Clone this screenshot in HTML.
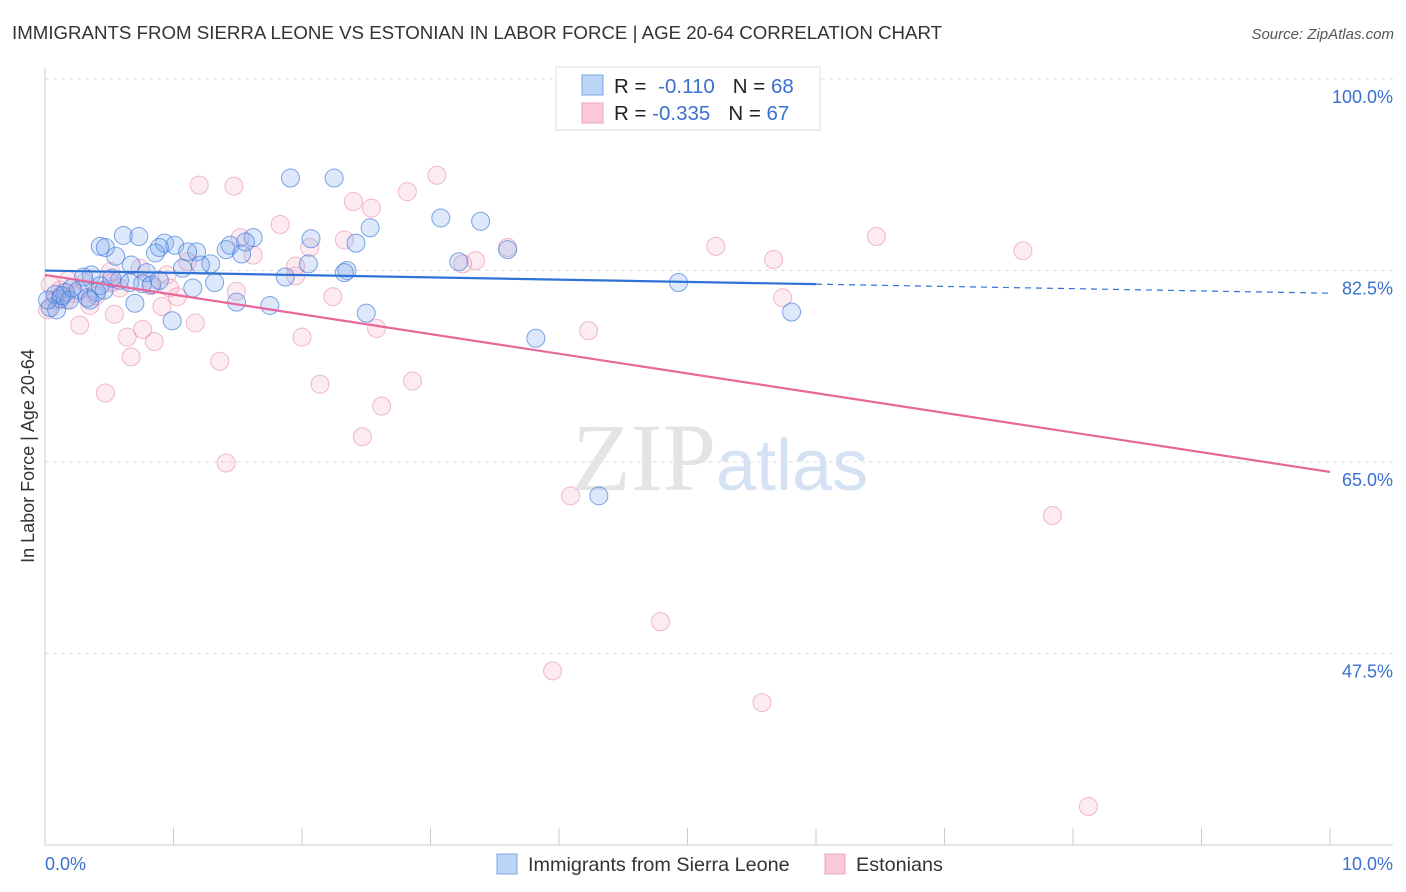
<!DOCTYPE html>
<html><head><meta charset="utf-8"><style>
body{margin:0;background:#fff;font-family:"Liberation Sans",sans-serif;}
#wrap{position:relative;width:1406px;height:892px;overflow:hidden;}
</style></head><body>
<div id="wrap">
<svg id="svg" width="1406" height="892" xmlns="http://www.w3.org/2000/svg">
<text x="12" y="39" font-size="18.7" fill="#333" font-family="Liberation Sans, sans-serif">IMMIGRANTS FROM SIERRA LEONE VS ESTONIAN IN LABOR FORCE | AGE 20-64 CORRELATION CHART</text>
<text x="1394" y="39" font-size="15" fill="#555" font-style="italic" text-anchor="end">Source: ZipAtlas.com</text>
<text x="716" y="490" font-size="96" fill="#e4e4e4" text-anchor="end" font-family="Liberation Serif, serif">ZIP</text>
<text x="716" y="490" font-size="72" fill="#d4e2f4" font-family="Liberation Sans, sans-serif">atlas</text>
<text transform="translate(34,456) rotate(-90)" font-size="18" fill="#333" text-anchor="middle">In Labor Force | Age 20-64</text>
<g id="grid"></g><g id="pts"></g><g id="trend"></g>
<g>
<rect x="556" y="67" width="264" height="63" fill="#fff" stroke="#ddd"/>
<rect x="582" y="75" width="21" height="20" fill="#bcd4f6" stroke="#7aa6e6"/>
<rect x="582" y="103" width="21" height="20" fill="#fac8d8" stroke="#eba4bc"/>
<text x="614" y="93" font-size="20.5" fill="#222">R = <tspan fill="#3a70d0" dx="6">-0.110</tspan><tspan fill="#222" dx="18">N = </tspan><tspan fill="#3a70d0">68</tspan></text>
<text x="614" y="120" font-size="20.5" fill="#222">R = <tspan fill="#3a70d0">-0.335</tspan><tspan fill="#222" dx="18">N = </tspan><tspan fill="#3a70d0">67</tspan></text>
</g>
<g>
<rect x="497" y="854" width="20" height="20" fill="#bcd4f6" stroke="#7aa6e6"/>
<text x="528" y="871" font-size="19.8" fill="#333">Immigrants from Sierra Leone</text>
<rect x="825" y="854" width="20" height="20" fill="#fac8d8" stroke="#eba4bc"/>
<text x="856" y="871" font-size="19.8" fill="#333">Estonians</text>
</g>
<text x="45" y="870" font-size="18" fill="#3a70d0">0.0%</text>
<text x="1393" y="870" font-size="18" fill="#3a70d0" text-anchor="end">10.0%</text>
</svg>
</div>
<script>
const blueX=[1.91,2.25,3.08,3.39,2.53,0.61,0.73,2.07,2.42,0.43,0.47,0.93,1.01,0.89,1.62,1.56,1.44,1.41,1.18,1.11,0.86,1.53,0.55,3.60,3.22,1.29,1.21,1.07,0.67,2.05,2.35,2.33,0.36,0.30,0.79,0.58,1.87,4.93,1.32,1.15,0.76,0.83,0.66,0.43,0.40,0.26,0.16,0.08,0.12,0.19,0.33,0.70,1.49,1.75,0.04,0.09,2.50,5.81,0.99,3.82,4.31,0.02,0.21,0.46,0.52,0.13,0.35,0.89];
const blueY=[90.95,90.95,87.3,87.0,86.4,85.7,85.6,85.4,85.0,84.7,84.6,85.0,84.8,84.6,85.5,85.1,84.8,84.4,84.2,84.2,84.1,84.0,83.8,84.4,83.3,83.1,83.0,82.7,83.0,83.1,82.5,82.3,82.1,81.9,82.3,81.6,81.9,81.4,81.4,80.9,81.3,81.2,81.4,81.1,80.5,80.7,80.5,80.3,79.9,79.8,80.0,79.5,79.6,79.3,79.1,78.9,78.6,78.7,77.9,76.3,61.9,79.8,80.9,80.7,81.8,80.2,79.8,81.6];
const pinkX=[5.94,3.05,1.20,1.47,2.82,2.40,2.54,1.83,6.47,2.33,1.52,5.22,3.60,7.61,2.06,1.62,5.67,3.35,3.25,1.11,1.95,0.74,0.51,0.95,1.95,0.18,0.58,0.97,1.49,0.82,0.40,1.03,2.24,5.74,0.35,0.91,0.54,1.17,0.27,0.76,2.58,4.23,0.64,2.00,0.85,0.67,1.36,2.14,2.86,0.47,2.62,2.47,1.41,4.09,7.84,4.79,3.95,5.58,8.12,0.04,0.12,0.23,0.08,0.02,0.31,0.52,0.16];
const pinkY=[99.9,91.2,90.3,90.2,89.7,88.8,88.2,86.7,85.6,85.3,85.5,84.7,84.6,84.3,84.6,83.9,83.5,83.4,83.1,83.3,82.9,82.7,82.4,82.1,82.0,81.6,80.9,80.9,80.6,81.1,80.2,80.1,80.1,80.0,79.3,79.2,78.5,77.7,77.5,77.1,77.2,77.0,76.4,76.4,76.0,74.6,74.2,72.1,72.4,71.3,70.1,67.3,64.9,61.9,60.1,50.4,45.9,43.0,33.5,81.2,80.7,80.4,79.8,78.9,81.4,81.4,79.8];
const yTicks=[100,82.5,65,47.5];
const yTickLabels=["100.0%","82.5%","65.0%","47.5%"];
const xTicks=[0,1,2,3,4,5,6,7,8,9,10];
const blueSolidEnd=6.0;

const NS="http://www.w3.org/2000/svg";
const X0=45,X1=1330,Y100=79,PXPER=10.94;
const sx=v=>X0+(X1-X0)*v/10;
const sy=v=>Y100+(100-v)*PXPER;
function mk(tag,attrs,parent){const e=document.createElementNS(NS,tag);for(const k in attrs)e.setAttribute(k,attrs[k]);parent.appendChild(e);return e;}
const grid=document.getElementById('grid');
yTicks.forEach((t,i)=>{
  const l=mk('line',{x1:X0,x2:1393,y1:sy(t),y2:sy(t),stroke:'#ddd','stroke-dasharray':'4,4'},grid);
  
  
  const tx=mk('text',{x:1393,y:sy(t)+24,'font-size':18,fill:'#3a70d0','text-anchor':'end'},grid);
  tx.textContent=yTickLabels[i];
  
  
});
const ax=mk('line',{x1:X0,x2:X0,y1:68,y2:845,stroke:'#ccc'},grid);


const bx=mk('line',{x1:X0,x2:1393,y1:845,y2:845,stroke:'#ccc'},grid);


xTicks.forEach(t=>{
  const l=mk('line',{x1:sx(t),x2:sx(t),y1:828,y2:845,stroke:'#ccc'},grid);
  
  
});
const pts=document.getElementById('pts');
function drawPts(xs,ys,fill,stroke,name){
  xs.forEach((x,i)=>{
    const c=mk('circle',{cx:sx(x),cy:sy(ys[i]),r:9,fill:fill,stroke:stroke,'stroke-width':1},pts);
    
    
  });
}
drawPts(pinkX,pinkY,'rgba(245,165,195,0.22)','rgba(232,140,170,0.6)','estonian-point');
drawPts(blueX,blueY,'rgba(120,165,235,0.25)','rgba(60,120,215,0.65)','sierra-leone-point');
function reg(xs,ys){const n=xs.length;let mx=0,my=0;xs.forEach((x,i)=>{mx+=x;my+=ys[i];});mx/=n;my/=n;let sxy=0,sxx=0;xs.forEach((x,i)=>{sxy+=(x-mx)*(ys[i]-my);sxx+=(x-mx)**2;});const b=sxy/sxx;return [my-b*mx,b];}
const tr=document.getElementById('trend');
const [ba,bb]=reg(blueX,blueY),[pa,pb]=reg(pinkX,pinkY);
let l=mk('line',{x1:sx(0),y1:sy(pa),x2:sx(10),y2:sy(pa+pb*10),stroke:'#e8679a','stroke-width':2.2},tr);


l=mk('line',{x1:sx(0),y1:sy(ba),x2:sx(blueSolidEnd),y2:sy(ba+bb*blueSolidEnd),stroke:'#2f72d6','stroke-width':2.2},tr);


l=mk('line',{x1:sx(blueSolidEnd),y1:sy(ba+bb*blueSolidEnd),x2:sx(10),y2:sy(ba+bb*10),stroke:'#2f72d6','stroke-width':1.2,'stroke-dasharray':'6,5'},tr);


</script>
</body></html>
